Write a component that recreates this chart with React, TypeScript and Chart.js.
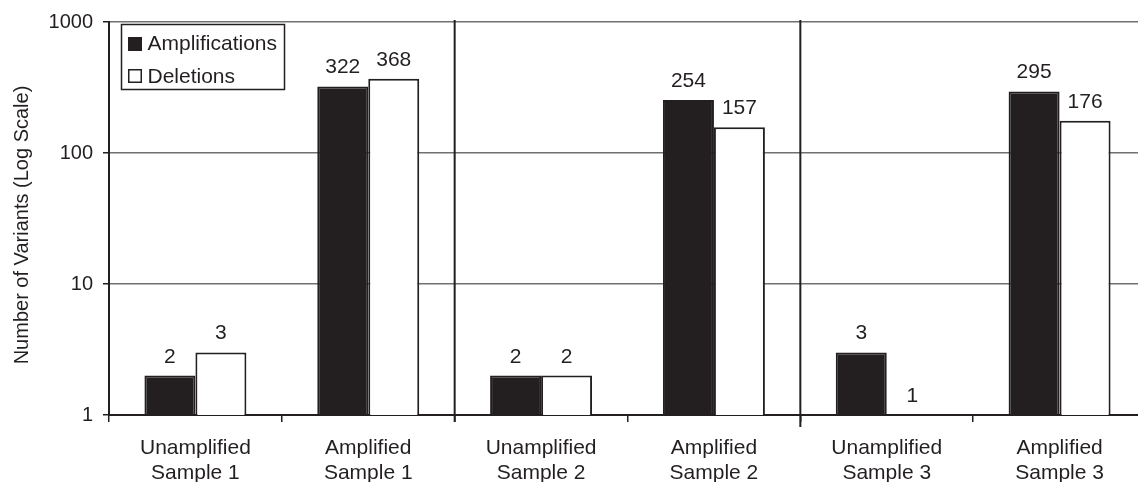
import React, { useEffect, useRef } from 'react';
import { Chart, registerables } from 'chart.js';

Chart.register(...registerables);

const categories: string[][] = [
  ['Unamplified', 'Sample 1'],
  ['Amplified', 'Sample 1'],
  ['Unamplified', 'Sample 2'],
  ['Amplified', 'Sample 2'],
  ['Unamplified', 'Sample 3'],
  ['Amplified', 'Sample 3'],
];
const seriesNames = ['Amplifications', 'Deletions'];
const amplifications = [2, 322, 2, 254, 3, 295];
const deletions = [3, 368, 2, 157, 1, 176];
const yTickValues = [1, 10, 100, 1000];
const separatorAfter = [1, 3];
const yTitle = 'Number of Variants (Log Scale)';

const INK = '#231f20';
const FONT = "'Liberation Sans', Arial, Helvetica, sans-serif";

const valueLabels = {
  id: 'valueLabels',
  afterDatasetsDraw(chart: any) {
    const ctx = chart.ctx;
    ctx.save();
    ctx.font = `21px ${FONT}`;
    ctx.fillStyle = INK;
    ctx.textAlign = 'center';
    ctx.textBaseline = 'alphabetic';
    chart.data.datasets.forEach((ds: any, di: number) => {
      const meta = chart.getDatasetMeta(di);
      meta.data.forEach((el: any, i: number) => {
        ctx.fillText(String(ds.data[i]), el.x, el.y - 13);
      });
    });
    ctx.restore();
  },
};

const separators = {
  id: 'separators',
  afterDraw(chart: any) {
    const ctx = chart.ctx;
    const xs = chart.scales.x;
    const area = chart.chartArea;
    ctx.save();
    ctx.strokeStyle = INK;
    ctx.lineWidth = 2;
    separatorAfter.forEach((i, k) => {
      const x = (xs.getPixelForValue(i) + xs.getPixelForValue(i + 1)) / 2;
      ctx.beginPath();
      ctx.moveTo(x, area.top - 2);
      ctx.lineTo(x, area.bottom + (k === 0 ? 7 : 12));
      ctx.stroke();
    });
    ctx.restore();
  },
};

const yAxisTitle = {
  id: 'yAxisTitle',
  afterDraw(chart: any) {
    const ctx = chart.ctx;
    ctx.save();
    ctx.translate(22, 225);
    ctx.rotate(-Math.PI / 2);
    ctx.font = `20px ${FONT}`;
    ctx.fillStyle = INK;
    ctx.textAlign = 'center';
    ctx.textBaseline = 'middle';
    ctx.fillText(yTitle, 0, 0);
    ctx.restore();
  },
};

const boxLegend = {
  id: 'boxLegend',
  afterDraw(chart: any) {
    const ctx = chart.ctx;
    ctx.save();
    ctx.fillStyle = '#ffffff';
    ctx.fillRect(121, 24, 163, 65);
    ctx.strokeStyle = INK;
    ctx.lineWidth = 1.5;
    ctx.strokeRect(121.5, 24.5, 163, 65);
    ctx.fillStyle = INK;
    ctx.fillRect(128, 37, 14, 14);
    ctx.lineWidth = 1.5;
    ctx.strokeRect(128.75, 69.75, 12.5, 12.5);
    ctx.font = `21px ${FONT}`;
    ctx.textAlign = 'left';
    ctx.textBaseline = 'middle';
    ctx.fillText(seriesNames[0], 147.5, 44);
    ctx.fillText(seriesNames[1], 147.5, 77);
    ctx.restore();
  },
};

export default function App() {
  const ref = useRef<HTMLCanvasElement | null>(null);

  useEffect(() => {
    if (!ref.current) return;
    const chart = new Chart(ref.current, {
      type: 'bar',
      data: {
        labels: categories,
        datasets: [
          {
            label: seriesNames[0],
            data: amplifications,
            backgroundColor: INK,
            borderColor: INK,
            borderWidth: 2,
            categoryPercentage: 0.59,
            barPercentage: 1,
          },
          {
            label: seriesNames[1],
            data: deletions,
            backgroundColor: '#ffffff',
            borderColor: INK,
            borderWidth: 2,
            categoryPercentage: 0.59,
            barPercentage: 1,
          },
        ],
      },
      options: {
        animation: false,
        responsive: true,
        maintainAspectRatio: false,
        layout: { padding: { top: 19, left: 0, right: 0, bottom: 0 } },
        plugins: {
          legend: { display: false },
          tooltip: { enabled: false },
        },
        scales: {
          x: {
            grid: {
              offset: true,
              drawOnChartArea: false,
              tickLength: 7,
              tickColor: INK,
              lineWidth: 1.5,
            },
            border: { color: INK, width: 2 },
            ticks: {
              font: { family: FONT, size: 21, lineHeight: 1.17 },
              color: INK,
              padding: 14,
              maxRotation: 0,
              autoSkip: false,
            },
            afterFit: (s: any) => {
              s.height = 67;
            },
          },
          y: {
            type: 'logarithmic',
            min: 1,
            max: 1000,
            afterBuildTicks: (s: any) => {
              s.ticks = yTickValues.map((v) => ({ value: v }));
            },
            afterFit: (s: any) => {
              s.width = 109;
            },
            ticks: {
              callback: (v: any) => String(v),
              font: { family: FONT, size: 20 },
              color: INK,
              padding: 10,
            },
            grid: {
              color: '#707070',
              lineWidth: 1.5,
              tickLength: 6,
              tickColor: INK,
            },
            border: { color: INK, width: 2 },
            title: { display: false },
          },
        },
      },
      plugins: [valueLabels, separators, boxLegend, yAxisTitle],
    } as any);
    return () => chart.destroy();
  }, []);

  return (
    <div style={{ position: 'fixed', left: 0, top: 0, right: 0, bottom: 0, overflow: 'hidden', background: '#fff' }}>
      <div style={{ position: 'absolute', left: 0, top: 0, width: 1146, height: 482 }}>
        <canvas ref={ref} />
      </div>
    </div>
  );
}
